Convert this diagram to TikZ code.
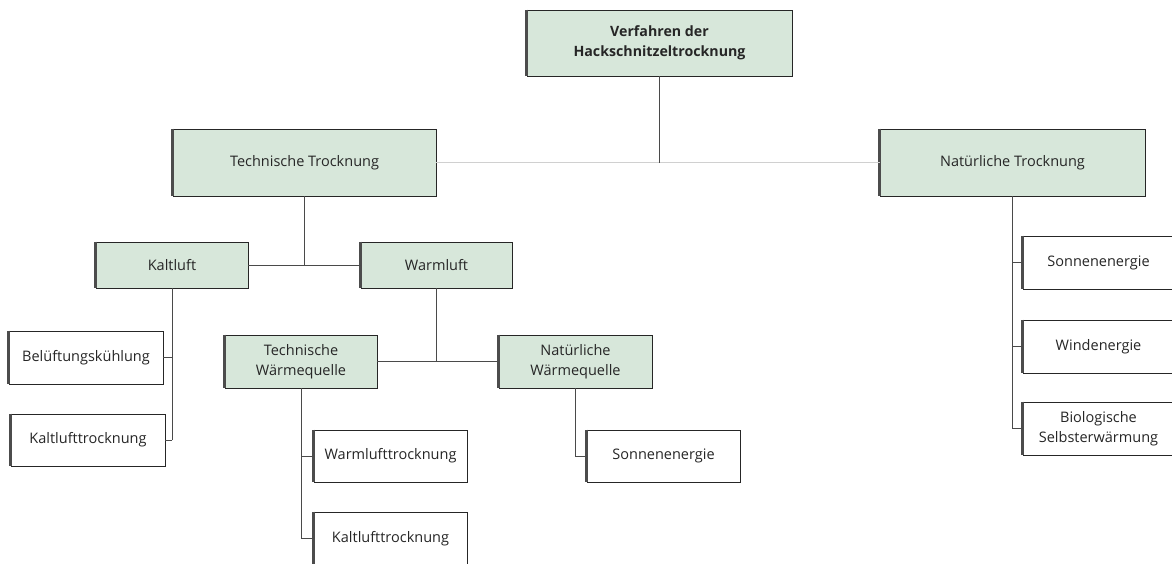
\documentclass[tikz,border=0pt]{standalone}
\usepackage{fontspec}
\setmainfont{Open Sans}
\definecolor{boxgreen}{HTML}{D7E7DA}
\definecolor{linegray}{HTML}{4A4A4A}
\definecolor{lightline}{HTML}{D0D0D0}
\tikzset{
  basebox/.style={draw=black!85, line width=0.9pt, inner sep=1pt, align=center,
    font=\fontsize{14.5}{19.5}\selectfont, text=black!85,
    append after command={(\tikzlastnode.north west) edge[draw=black!70, line width=2.2pt] (\tikzlastnode.south west)}},
  gbox/.style={basebox, fill=boxgreen},
  wbox/.style={basebox, fill=white},
  conn/.style={draw=linegray, line width=1pt},
  lconn/.style={draw=lightline, line width=0.8pt},
}
\begin{document}
\begin{tikzpicture}[x=1pt,y=-1pt]
\useasboundingbox (0,0) rectangle (1172,563);
\clip (0,0) rectangle (1172,563);
% nodes
\node[gbox, minimum width=265pt, minimum height=66pt, font=\fontsize{14.2}{20}\selectfont\bfseries] (top) at (659.5,43) {Verfahren der\\Hackschnitzeltrocknung};
\node[gbox, minimum width=263pt, minimum height=67pt] (tt) at (304.5,162.5) {Technische Trocknung};
\node[gbox, minimum width=265pt, minimum height=67pt] (nt) at (1012.5,162.5) {Natürliche Trocknung};
\node[gbox, minimum width=152pt, minimum height=46pt] (kl) at (172,265) {Kaltluft};
\node[gbox, minimum width=151pt, minimum height=46pt] (wl) at (436.5,265) {Warmluft};
\node[wbox, minimum width=154pt, minimum height=53pt] (bk) at (86,357.5) {Belüftungskühlung};
\node[wbox, minimum width=154pt, minimum height=52pt] (klt1) at (88,440) {Kaltlufttrocknung};
\node[gbox, minimum width=152pt, minimum height=53pt] (twq) at (301,361.5) {Technische\\Wärmequelle};
\node[gbox, minimum width=153pt, minimum height=53pt] (nwq) at (575.5,361.5) {Natürliche\\Wärmequelle};
\node[wbox, minimum width=153pt, minimum height=52pt] (wlt) at (390.5,456) {Warmlufttrocknung};
\node[wbox, minimum width=153pt, minimum height=53pt] (klt2) at (390.5,538.5) {Kaltlufttrocknung};
\node[wbox, minimum width=153pt, minimum height=52pt] (son1) at (663.5,456) {Sonnenenergie};
\node[wbox, minimum width=151pt, minimum height=53pt] (son2) at (1098.5,262.5) {Sonnenenergie};
\node[wbox, minimum width=151pt, minimum height=53pt] (wind) at (1098.5,346.5) {Windenergie};
\node[wbox, minimum width=151pt, minimum height=53pt] (bio) at (1098.5,428.5) {Biologische\\Selbsterwärmung};
% connectors
\draw[lconn] (tt.east) -- (nt.west);
\draw[conn] (top.south) -- (top.south |- tt.east);
\draw[conn] (tt.south) -- (tt.south |- kl.east);
\draw[conn] (kl.east) -- (wl.west);
\draw[conn] (kl.south) -- (kl.south |- klt1.east);
\draw[conn] (kl.south |- bk.east) -- (bk.east);
\draw[conn] (kl.south |- klt1.east) -- (klt1.east);
\draw[conn] (wl.south) -- (wl.south |- twq.east);
\draw[conn] (twq.east) -- (nwq.west);
\draw[conn] (twq.south) -- (twq.south |- klt2.west);
\draw[conn] (twq.south |- wlt.west) -- (wlt.west);
\draw[conn] (twq.south |- klt2.west) -- (klt2.west);
\draw[conn] (nwq.south) |- (son1.west);
\draw[conn] (nt.south) -- (nt.south |- bio.west);
\draw[conn] (nt.south |- son2.west) -- (son2.west);
\draw[conn] (nt.south |- wind.west) -- (wind.west);
\draw[conn] (nt.south |- bio.west) -- (bio.west);
\end{tikzpicture}
\end{document}
